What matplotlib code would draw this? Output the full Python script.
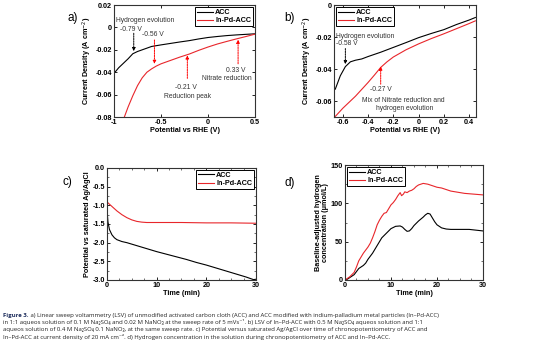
import numpy as np
import matplotlib
matplotlib.use("Agg")
import matplotlib.pyplot as plt
from matplotlib.ticker import AutoMinorLocator

plt.rcParams['font.family'] = ['Liberation Sans', 'DejaVu Sans']
plt.rcParams['axes.unicode_minus'] = False

# ---- a) LSV, 0.1 M Na2SO4 + 0.02 M NaNO3
a_acc_x = [-1.0, -0.95, -0.9, -0.85, -0.8, -0.75, -0.7, -0.6, -0.5, -0.4, -0.3,
           -0.2, -0.1, 0.0, 0.1, 0.2, 0.3, 0.4, 0.5]
a_acc_y = [-0.041, -0.036, -0.032, -0.028, -0.0235, -0.0215, -0.020, -0.017,
           -0.0156, -0.0143, -0.013, -0.0118, -0.0103, -0.009, -0.0081, -0.0073,
           -0.0067, -0.0062, -0.0057]
a_pd_x = [-0.89, -0.85, -0.8, -0.75, -0.7, -0.65, -0.6, -0.55, -0.5, -0.4, -0.3,
          -0.2, -0.1, 0.0, 0.1, 0.2, 0.3, 0.4, 0.5]
a_pd_y = [-0.080, -0.071, -0.061, -0.052, -0.045, -0.040, -0.037, -0.0345,
          -0.0325, -0.0295, -0.0265, -0.0238, -0.0205, -0.0175, -0.0148, -0.0125,
          -0.0103, -0.0082, -0.006]

# ---- b) LSV, 0.5 M Na2SO4 vs 0.4 M Na2SO4 + 0.1 NaNO3
b_acc_x = [-0.66, -0.62, -0.58, -0.54, -0.5, -0.45, -0.4, -0.3, -0.2, -0.1, 0.0,
           0.1, 0.2, 0.3, 0.4, 0.45]
b_acc_y = [-0.0526, -0.0442, -0.0385, -0.0355, -0.0345, -0.0337, -0.0322, -0.0295,
           -0.0265, -0.0235, -0.0204, -0.0178, -0.0154, -0.0122, -0.0094, -0.0078]
b_pd_x = [-0.67, -0.6, -0.5, -0.4, -0.35, -0.3, -0.25, -0.2, -0.1, 0.0, 0.1, 0.2,
          0.3, 0.4, 0.45]
b_pd_y = [-0.0705, -0.0645, -0.057, -0.0484, -0.0438, -0.039, -0.0355, -0.0325,
          -0.028, -0.0243, -0.021, -0.018, -0.0148, -0.0116, -0.0099]

# ---- c) chronopotentiometry
c_acc_t = [0, 0.05, 0.2, 0.5, 1, 1.5, 2, 3, 4, 6, 8, 10, 12, 14, 16, 18, 20, 22,
           24, 26, 28, 29.5, 30]
c_acc_v = [-0.92, -1.2, -1.45, -1.65, -1.79, -1.87, -1.92, -1.97, -2.0, -2.08,
           -2.16, -2.24, -2.31, -2.38, -2.45, -2.53, -2.6, -2.68, -2.76, -2.84,
           -2.92, -2.99, -2.98]
c_pd_t = [0, 0.02, 0.1, 0.5, 1, 2, 3, 4, 5, 6, 7, 8, 10, 15, 20, 25, 30]
c_pd_v = [0.0, -0.9, -0.92, -0.97, -1.03, -1.15, -1.25, -1.33, -1.39, -1.43,
          -1.45, -1.46, -1.46, -1.46, -1.47, -1.47, -1.48]

# ---- d) hydrogen concentration
d_acc_t = [0, 0.5, 1, 1.5, 2, 2.5, 3, 3.5, 4, 4.5, 5, 6, 7, 8, 9, 10, 11, 12,
           12.5, 13, 13.5, 14, 14.5, 15, 16, 17, 17.5, 18, 18.5, 19, 19.5, 20,
           21, 22, 23, 25, 27, 30]
d_acc_c = [0, 1, 3, 5, 7, 11, 15, 17, 19, 22, 27, 35, 45, 55, 61, 67, 70, 70.5,
           69, 66, 63.5, 64, 67, 71, 77, 82, 85, 87, 86, 81, 76, 72, 68, 66.5, 66,
           66, 66, 64]
d_pd_t = [0, 0.5, 1, 1.5, 2, 2.5, 3, 3.5, 4, 4.5, 5, 5.5, 6, 6.5, 7, 7.5, 8, 8.5,
          9, 9.5, 10, 10.5, 11, 11.5, 12, 12.3, 12.7, 13, 13.5, 14, 14.5, 15,
          15.5, 16, 17, 18, 19, 20, 21, 22, 23, 24, 26, 28, 30]
d_pd_c = [0, 2, 4, 7, 10, 17, 25, 30, 35, 39, 43, 48, 55, 63, 72, 78, 83, 87, 88,
          93, 98, 101, 105, 110, 114, 110, 112, 115, 114, 116, 117, 119, 122, 124,
          126, 125, 123, 121, 120, 118, 116, 115, 113, 112, 111]

# annotations: (text, x, y, ha)
a_texts = [("Hydrogen evolution", -0.975, 0.0066, 'left'),
           ("-0.79 V", -0.94, -0.0023, 'left'),
           ("-0.56 V", -0.70, -0.0067, 'left'),
           ("-0.21 V", -0.24, -0.0533, 'center'),
           ("Reduction peak", -0.22, -0.0616, 'center'),
           ("0.33 V", 0.29, -0.0385, 'center'),
           ("Nitrate reduction", 0.20, -0.046, 'center')]
# arrows: (x, y_start, y_end, colour)
a_arrows = [(-0.79, -0.0052, -0.0212, 'k'),
            (-0.57, -0.0112, -0.0325, 'r'),
            (-0.22, -0.0455, -0.0250, 'r'),
            (0.32, -0.0325, -0.0110, 'r')]
b_texts = [("Hydrogen evolution", -0.655, -0.0194, 'left'),
           ("-0.58 V", -0.655, -0.0242, 'left'),
           ("-0.27 V", -0.30, -0.0526, 'center'),
           ("Mix of Nitrate reduction and", -0.12, -0.0594, 'center'),
           ("hydrogen evolution", -0.11, -0.0648, 'center')]
b_arrows = [(-0.58, -0.0272, -0.0370, 'k'),
            (-0.30, -0.0495, -0.0385, 'r')]

caption_head = "Figure 3."
caption = [
    " a) Linear sweep voltammetry (LSV) of unmodified activated carbon cloth (ACC) and ACC modified with indium-palladium metal particles (In–Pd-ACC)",
    "in 1:1 aqueos solution of 0.1 M Na₂SO₄ and 0.02 M NaNO₃ at the sweep rate of 5 mVs⁻¹. b) LSV of In–Pd-ACC with 0.5 M Na₂SO₄ aqueos solution and 1:1",
    "aqueos solution of 0.4 M Na₂SO₄ 0.1 NaNO₃, at the same sweep rate. c) Potential versus saturated Ag/AgCl over time of chronopotentiometry of ACC and",
    "In–Pd-ACC at current density of 20 mA cm⁻². d) Hydrogen concentration in the solution during chronopotentiometry of ACC and In–Pd-ACC.",
]

RED = '#e8262b'
FS = 5.2
CAP_FONT = ['Open Sans', 'DejaVu Sans']


def style(ax, minor=False):
    ax.tick_params(direction='in', top=True, right=True, length=2.2, width=0.6,
                   labelsize=FS, pad=1.5)
    for lab in ax.get_xticklabels() + ax.get_yticklabels():
        lab.set_fontweight('bold')
    for s in ax.spines.values():
        s.set_linewidth(0.8)
        s.set_color('#333333')
    if minor:
        ax.xaxis.set_minor_locator(AutoMinorLocator(4))
        ax.yaxis.set_minor_locator(AutoMinorLocator(2))
        ax.tick_params(which='minor', direction='in', top=True, right=True,
                       length=1.2, width=0.4)


def legend(ax, loc):
    lg = ax.legend(loc=loc, fancybox=False, edgecolor='black', framealpha=1,
                   prop={'weight': 'bold', 'size': FS}, handlelength=2.2,
                   borderpad=0.25, labelspacing=0.15, handletextpad=0.3,
                   borderaxespad=0.3)
    lg.get_frame().set_linewidth(0.7)


def dashed_arrow(ax, x, y0, y1, c):
    ax.annotate('', xy=(x, y1), xytext=(x, y0),
                arrowprops=dict(arrowstyle='-|>', color=c, lw=0.7,
                                linestyle=(0, (1.6, 1.0)), mutation_scale=4.5,
                                shrinkA=0, shrinkB=0))


fig = plt.figure(figsize=(5.54, 3.56), dpi=100)

# a)
ax = fig.add_axes([0.2058, 0.6713, 0.2545, 0.3146])
ax.plot(a_acc_x, a_acc_y, color='black', lw=0.8, label='ACC')
ax.plot(a_pd_x, a_pd_y, color=RED, lw=0.8, label='In-Pd-ACC')
ax.set_xlim(-1, 0.5)
ax.set_ylim(-0.08, 0.02)
ax.set_xticks([-1, -0.5, 0, 0.5], ['-1', '-0.5', '0', '0.5'])
ax.set_yticks([-0.08, -0.06, -0.04, -0.02, 0, 0.02],
              ['-0.08', '-0.06', '-0.04', '-0.02', '0', '0.02'])
for t, x, y, ha in a_texts:
    ax.text(x, y, t, ha=ha, va='center', fontsize=4.9, color='#333333')
for x, y0, y1, c in a_arrows:
    dashed_arrow(ax, x, y0, y1, c)
ax.set_xlabel('Potential vs RHE (V)', fontsize=FS, fontweight='bold', labelpad=1)
ax.set_ylabel('Current Density (A cm$^{-2}$)', fontsize=FS, fontweight='bold',
              labelpad=1)
legend(ax, 'upper right')
style(ax)
fig.text(0.121, 0.95, 'a)', fontsize=8.5, ha='left', va='center')

# b)
ax = fig.add_axes([0.6029, 0.6713, 0.2563, 0.3146])
ax.plot(b_acc_x, b_acc_y, color='black', lw=0.8, label='ACC')
ax.plot(b_pd_x, b_pd_y, color=RED, lw=0.8, label='In-Pd-ACC')
ax.set_xlim(-0.67, 0.455)
ax.set_ylim(-0.07, 0)
ax.set_xticks([-0.6, -0.4, -0.2, 0, 0.2, 0.4],
              ['-0.6', '-0.4', '-0.2', '0', '0.2', '0.4'])
ax.set_yticks([-0.06, -0.04, -0.02, 0], ['-0.06', '-0.04', '-0.02', '0'])
for t, x, y, ha in b_texts:
    ax.text(x, y, t, ha=ha, va='center', fontsize=4.9, color='#333333')
for x, y0, y1, c in b_arrows:
    dashed_arrow(ax, x, y0, y1, c)
ax.set_xlabel('Potential vs RHE (V)', fontsize=FS, fontweight='bold', labelpad=1)
ax.set_ylabel('Current Density (A cm$^{-2}$)', fontsize=FS, fontweight='bold',
              labelpad=1)
legend(ax, 'upper left')
style(ax)
fig.text(0.513, 0.95, 'b)', fontsize=8.5, ha='left', va='center')

# c)
ax = fig.add_axes([0.1931, 0.2135, 0.2690, 0.3146])
ax.plot(c_acc_t, c_acc_v, color='black', lw=0.8, label='ACC')
ax.plot(c_pd_t, c_pd_v, color=RED, lw=0.8, label='In-Pd-ACC')
ax.set_xlim(0, 30)
ax.set_ylim(-3, 0)
ax.set_xticks([0, 10, 20, 30])
ax.set_yticks([-3, -2.5, -2, -1.5, -1, -0.5, 0],
              ['-3.0', '-2.5', '-2.0', '-1.5', '-1.0', '-0.5', '0.0'])
ax.set_xlabel('Time (min)', fontsize=FS, fontweight='bold', labelpad=1)
ax.set_ylabel('Potential vs saturated Ag/AgCl', fontsize=FS, fontweight='bold',
              labelpad=1)
legend(ax, 'upper right')
style(ax, minor=True)
fig.text(0.113, 0.488, 'c)', fontsize=8.5, ha='left', va='center')

# d)
ax = fig.add_axes([0.6227, 0.2135, 0.2491, 0.3230])
ax.plot(d_acc_t, d_acc_c, color='black', lw=0.8, label='ACC')
ax.plot(d_pd_t, d_pd_c, color=RED, lw=0.8, label='In-Pd-ACC')
ax.set_xlim(0, 30)
ax.set_ylim(0, 150)
ax.set_xticks([0, 10, 20, 30])
ax.set_yticks([0, 50, 100, 150])
ax.set_xlabel('Time (min)', fontsize=FS, fontweight='bold', labelpad=1)
ax.set_ylabel('Baseline-adjusted hydrogen\nconcentration (μmol/L)', fontsize=FS,
              fontweight='bold', labelpad=1, linespacing=1.1)
legend(ax, 'upper left')
style(ax, minor=True)
fig.text(0.513, 0.485, 'd)', fontsize=8.5, ha='left', va='center')

# caption
renderer = fig.canvas.get_renderer()
x0 = 0.006
head = fig.text(x0, 1 - 315 / 356, caption_head, fontsize=4.35, family=CAP_FONT,
                fontweight='bold', color='#1a2a5a', ha='left', va='center')
head_w = head.get_window_extent(renderer).width / fig.bbox.width
for i, line in enumerate(caption):
    xx = x0 + head_w if i == 0 else x0
    fig.text(xx, 1 - (315 + 7.4 * i) / 356, line, fontsize=4.35,
             family=CAP_FONT, color='#222222', ha='left', va='center')

fig.savefig('out.png', dpi=100)
